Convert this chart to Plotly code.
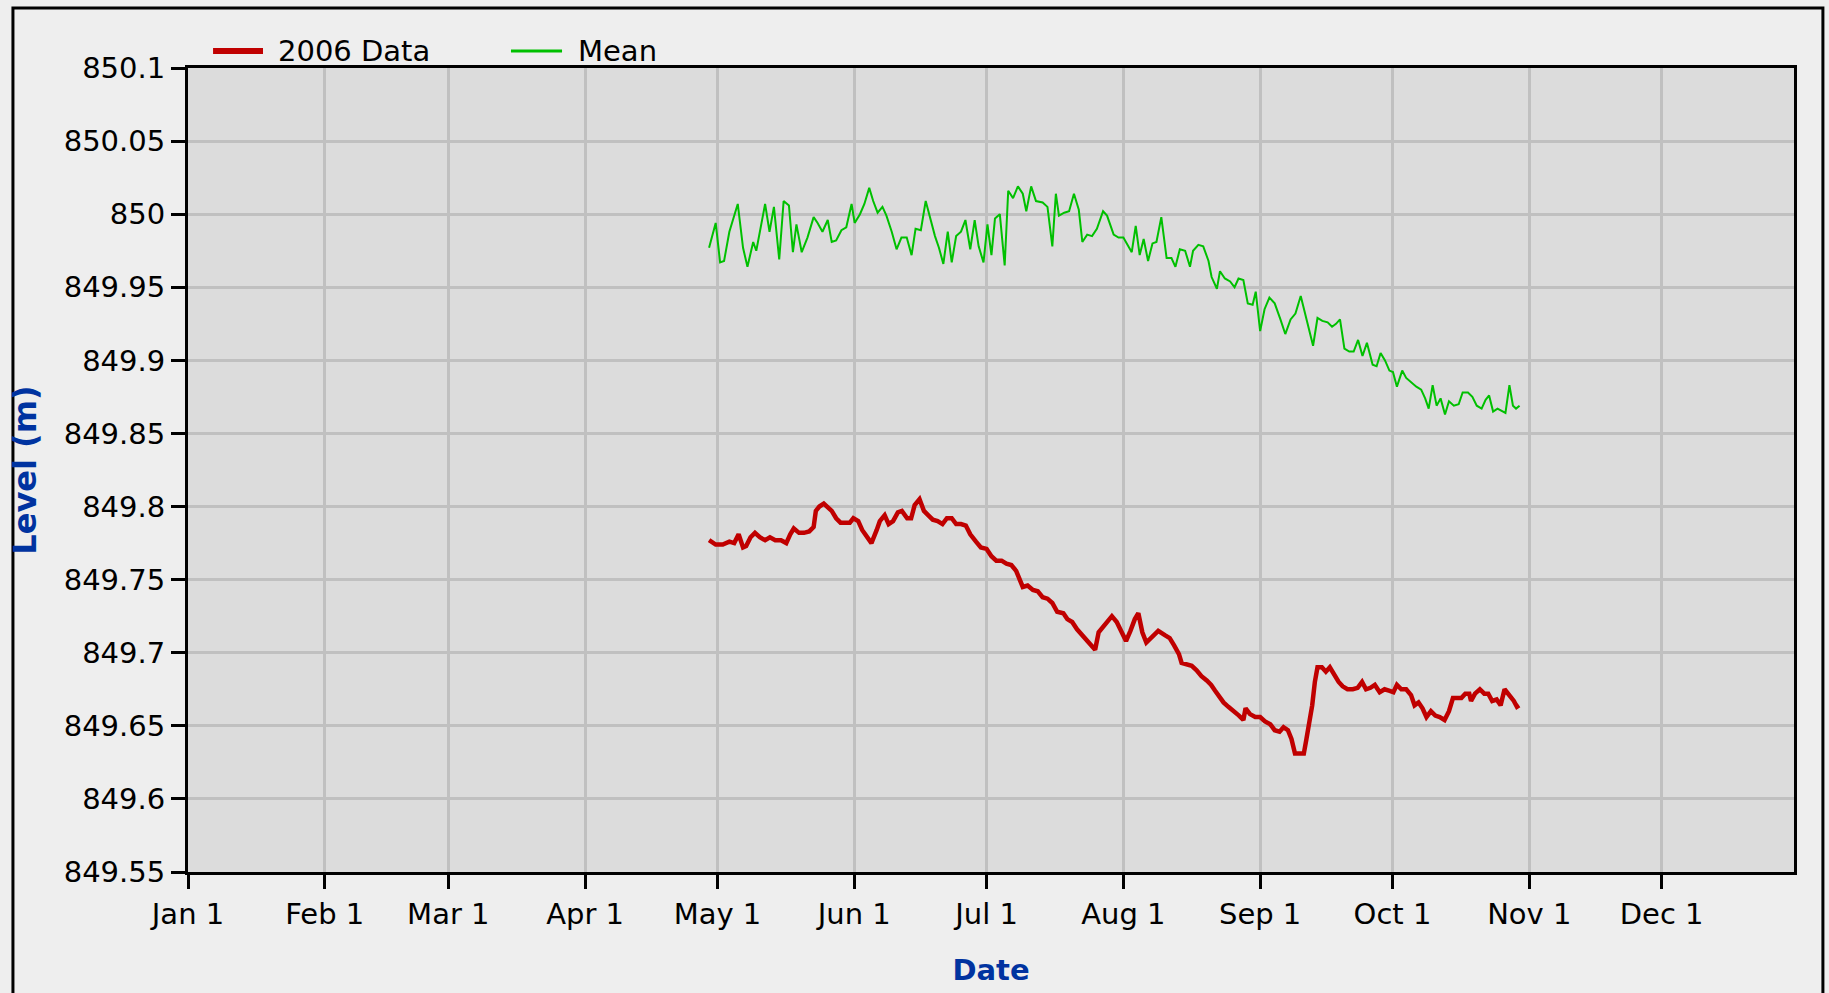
import pandas as pd
import plotly.graph_objects as go

YEAR_START = "2006-01-01"

# 2006 data: day offset from Jan 1 and level (m)
data_day = [118.1, 119.6, 121.2, 122.7, 123.8, 124.8, 125.8, 126.5, 127.5, 128.5,
            129.6, 130.8, 131.9, 133.1, 134.4, 135.6, 136.5, 137.3, 138.5, 139.6,
            140.8, 141.8, 142.3, 143.1, 144.1, 145.0, 145.9, 146.9, 147.9, 148.8,
            150.0, 150.8, 151.9, 152.8, 153.8, 154.9, 156.1, 156.8, 157.9, 158.8,
            159.8, 160.9, 161.8, 163.0, 163.9, 164.7, 165.8, 166.8, 167.8, 168.8,
            169.9, 171.0, 172.0, 173.1, 174.1, 175.2, 176.3, 177.3, 178.6, 179.7,
            181.0, 182.1, 183.2, 184.4, 185.5, 186.6, 187.7, 188.5, 189.2, 190.3,
            191.5, 192.6, 193.7, 194.8, 195.9, 197.0, 198.4, 199.3, 200.4, 201.5,
            202.6, 203.6, 204.5, 205.6, 206.4, 207.5, 208.6, 209.4, 210.5, 211.6,
            212.6, 213.6, 214.6, 215.4, 216.3, 217.2,
            218.6, 219.9, 221.4, 222.5, 223.5, 224.6, 225.2, 226.3, 227.5, 228.6,
            229.7, 230.9, 231.9, 232.8, 233.7, 234.7, 235.8, 237.2, 238.2, 239.2,
            239.7, 240.7, 241.9, 243.0, 244.1, 245.3, 246.3, 247.4, 248.3, 249.3,
            250.1, 250.9, 251.9, 252.9, 253.5, 254.2, 254.8, 255.4, 256.0, 257.0,
            257.9, 258.8, 259.8, 260.8, 261.7, 262.8, 264.0, 265.1, 266.1, 267.0,
            268.0, 269.0, 270.1, 271.2, 272.2, 273.2, 274.0, 275.0, 276.1, 277.2,
            278.0, 278.9, 279.8, 280.7, 281.7, 282.7, 283.7, 284.8, 285.8, 286.7,
            287.6, 288.6, 289.5, 290.4, 290.8, 291.7, 292.8, 293.8, 294.7, 295.6,
            296.6, 297.5, 298.4, 299.5, 300.5, 301.2, 301.7]
data_level = [849.777, 849.774, 849.774, 849.776, 849.775, 849.781, 849.772, 849.773, 849.779, 849.782,
              849.779, 849.777, 849.779, 849.777, 849.777, 849.775, 849.781, 849.785, 849.782, 849.782,
              849.783, 849.786, 849.797, 849.800, 849.802, 849.799, 849.797, 849.792, 849.789, 849.789,
              849.789, 849.792, 849.790, 849.784, 849.780, 849.775, 849.784, 849.790, 849.794, 849.788,
              849.790, 849.796, 849.797, 849.792, 849.792, 849.801, 849.805, 849.797, 849.794, 849.791,
              849.790, 849.788, 849.792, 849.792, 849.788, 849.788, 849.787, 849.781, 849.776, 849.772,
              849.771, 849.766, 849.763, 849.763, 849.761, 849.760, 849.756, 849.749, 849.745, 849.746,
              849.743, 849.742, 849.738, 849.737, 849.734, 849.728, 849.727, 849.723, 849.721, 849.716,
              849.712, 849.709, 849.706, 849.702, 849.714, 849.718, 849.721, 849.725, 849.721, 849.715,
              849.708, 849.715, 849.723, 849.727, 849.714, 849.707,
              849.711, 849.715, 849.712, 849.710, 849.705, 849.699, 849.693, 849.692, 849.691, 849.688,
              849.684, 849.681, 849.678, 849.674, 849.670, 849.666, 849.663, 849.660, 849.657, 849.654,
              849.662, 849.658, 849.656, 849.656, 849.653, 849.651, 849.647, 849.646, 849.649, 849.647,
              849.641, 849.631, 849.631, 849.631, 849.641, 849.652, 849.664, 849.680, 849.690, 849.690,
              849.687, 849.690, 849.685, 849.680, 849.677, 849.675, 849.675, 849.676, 849.680, 849.675,
              849.676, 849.678, 849.673, 849.675, 849.674, 849.673, 849.678, 849.675, 849.675, 849.671,
              849.664, 849.666, 849.662, 849.656, 849.660, 849.657, 849.656, 849.654, 849.660, 849.669,
              849.669, 849.669, 849.672, 849.672, 849.667, 849.672, 849.675, 849.672, 849.672, 849.667,
              849.668, 849.664, 849.675, 849.671, 849.667, 849.663, 849.664]

# Mean: day offset from Jan 1 and level (m)
mean_day = [118.1, 119.6, 120.6, 121.5, 122.7, 124.6, 125.8, 126.8, 128.1, 128.8,
            130.8, 131.8, 132.8, 134.0, 135.0, 136.2, 137.1, 137.9, 139.1, 140.4,
            141.8, 142.7, 143.8, 145.0, 145.9, 146.9, 148.1, 149.2, 150.4, 151.1,
            152.3, 153.3, 154.4, 155.3, 156.3, 157.4, 158.3, 159.5, 160.6, 161.7,
            162.9, 164.0, 164.9, 166.1, 167.2, 168.1, 169.3, 170.2, 171.2, 172.2,
            173.1, 174.1, 175.2, 176.2, 177.3, 178.3, 179.2, 180.3, 181.2, 182.1,
            182.9, 184.0, 185.1, 185.9, 187.0, 188.1, 189.2, 190.0, 191.1, 192.2,
            193.7, 194.8, 195.9, 196.7, 197.4, 198.6, 199.7, 200.8, 201.9, 202.7,
            203.8, 204.9, 206.0, 207.4, 208.3, 209.8, 210.9, 212.0, 213.1, 213.9,
            214.8, 215.7, 216.6, 217.6, 218.6, 219.5, 220.6,
            221.8, 222.9, 223.8, 224.8, 226.0, 227.1, 227.8, 229.0, 230.1, 231.3,
            232.0, 233.2, 233.9, 235.0, 236.2, 237.2, 238.1, 239.2, 240.2, 241.3,
            242.0, 243.0, 244.0, 245.1, 246.3, 247.6, 248.7, 249.9, 251.0, 252.2,
            253.2, 254.1, 255.0, 256.0, 257.1, 258.3, 259.3, 260.2, 261.1, 262.1,
            263.2, 264.2, 265.2, 266.2, 267.2, 268.5, 269.4, 270.3, 271.3, 272.3,
            273.1, 274.0, 275.2, 276.1, 277.2, 278.4, 279.5, 280.4, 281.2, 282.1,
            283.0, 283.9, 284.9, 285.8, 286.9, 288.0, 288.9, 290.1, 291.1, 292.1,
            293.2, 294.1, 294.9, 295.8, 296.8, 297.8, 298.6, 299.5, 300.3, 301.0,
            301.8]
mean_level = [849.977, 849.994, 849.967, 849.968, 849.988, 850.007, 849.977, 849.964, 849.981, 849.975,
              850.007, 849.988, 850.005, 849.969, 850.009, 850.006, 849.974, 849.993, 849.974, 849.984,
              849.998, 849.994, 849.988, 849.996, 849.981, 849.982, 849.989, 849.991, 850.007, 849.994,
              850.000, 850.007, 850.018, 850.009, 850.001, 850.005, 849.999, 849.988, 849.976, 849.984,
              849.984, 849.972, 849.990, 849.989, 850.009, 849.998, 849.985, 849.977, 849.966, 849.988,
              849.967, 849.985, 849.988, 849.996, 849.976, 849.996, 849.978, 849.967, 849.993, 849.972,
              849.997, 850.000, 849.965, 850.016, 850.011, 850.019, 850.014, 850.002, 850.019, 850.009,
              850.008, 850.005, 849.978, 850.014, 849.999, 850.001, 850.002, 850.014, 850.003, 849.981,
              849.986, 849.985, 849.990, 850.002, 849.999, 849.986, 849.984, 849.984, 849.978, 849.974,
              849.992, 849.972, 849.983, 849.968, 849.980, 849.981, 849.998,
              849.970, 849.970, 849.964, 849.976, 849.975, 849.964, 849.975, 849.979, 849.978, 849.968,
              849.957, 849.949, 849.961, 849.956, 849.954, 849.950, 849.956, 849.955, 849.939, 849.938,
              849.947, 849.920, 849.935, 849.943, 849.939, 849.928, 849.918, 849.928, 849.932, 849.944,
              849.932, 849.921, 849.910, 849.929, 849.927, 849.926, 849.923, 849.925, 849.928, 849.908,
              849.906, 849.906, 849.914, 849.903, 849.912, 849.897, 849.896, 849.905, 849.900, 849.893,
              849.892, 849.882, 849.893, 849.888, 849.885, 849.882, 849.880, 849.874, 849.867, 849.883,
              849.869, 849.874, 849.863, 849.872, 849.869, 849.870, 849.878, 849.878, 849.875, 849.869,
              849.867, 849.873, 849.876, 849.865, 849.867, 849.865, 849.864, 849.883, 849.869, 849.867,
              849.869]

month_ticks = ["2006-01-01", "2006-02-01", "2006-03-01", "2006-04-01", "2006-05-01", "2006-06-01",
               "2006-07-01", "2006-08-01", "2006-09-01", "2006-10-01", "2006-11-01", "2006-12-01"]
month_labels = ["Jan 1", "Feb 1", "Mar 1", "Apr 1", "May 1", "Jun 1",
                "Jul 1", "Aug 1", "Sep 1", "Oct 1", "Nov 1", "Dec 1"]
y_ticks = [849.55, 849.6, 849.65, 849.7, 849.75, 849.8, 849.85, 849.9, 849.95, 850.0, 850.05, 850.1]
y_labels = ["849.55", "849.6", "849.65", "849.7", "849.75", "849.8", "849.85", "849.9",
            "849.95", "850", "850.05", "850.1"]
series_names = ["2006 Data", "Mean"]
series_colors = ["#C00000", "#00C000"]

base = pd.Timestamp(YEAR_START)
data_x = base + pd.to_timedelta(data_day, unit="D")
mean_x = base + pd.to_timedelta(mean_day, unit="D")

FONT = "DejaVu Sans"
TITLE_BLUE = "#0033A0"

fig = go.Figure()
fig.add_trace(go.Scatter(x=mean_x, y=mean_level, mode="lines", name=series_names[1],
                         line=dict(color=series_colors[1], width=2)))
fig.add_trace(go.Scatter(x=data_x, y=data_level, mode="lines", name=series_names[0],
                         line=dict(color=series_colors[0], width=4.5)))

axis_common = dict(
    showgrid=True, gridcolor="#C0C0C0", gridwidth=3,
    showline=True, linecolor="black", linewidth=3, mirror=True,
    ticks="outside", ticklen=14, tickwidth=3, tickcolor="black",
    zeroline=False, tickfont=dict(family=FONT, size=29, color="black"),
)

fig.update_layout(
    width=1829, height=993,
    margin=dict(l=188, r=35, t=68, b=121),
    paper_bgcolor="#EEEEEE", plot_bgcolor="#DCDCDC",
    showlegend=False,
    font=dict(family=FONT, size=29, color="black"),
    xaxis=dict(type="date", range=["2006-01-01", "2006-12-31"],
               tickmode="array", tickvals=month_ticks, ticktext=month_labels,
               title=dict(text="Date", standoff=30,
                          font=dict(family=FONT, size=29, color=TITLE_BLUE, weight="bold")),
               **axis_common),
    yaxis=dict(range=[849.55, 850.1], tickmode="array", tickvals=y_ticks, ticktext=y_labels,
               title=dict(text="Level (m)", standoff=18,
                          font=dict(family=FONT, size=32, color=TITLE_BLUE, weight="bold")),
               **axis_common),
)

# outer frame of the chart image
fig.add_shape(type="rect", xref="paper", yref="paper", x0=-0.109, x1=1.018, y0=-0.2, y1=1.0746,
              line=dict(color="black", width=3), fillcolor="rgba(0,0,0,0)", layer="above")

# legend drawn above the plot area
legend_items = [(series_names[0], series_colors[0], 6, 0.0156, 0.0467, 0.0548),
                (series_names[1], series_colors[1], 3, 0.2011, 0.2329, 0.2416)]
for name, color, w, lx0, lx1, tx in legend_items:
    fig.add_shape(type="line", xref="paper", yref="paper", x0=lx0, x1=lx1, y0=1.0211, y1=1.0211,
                  line=dict(color=color, width=w))
    fig.add_annotation(text=name, xref="paper", yref="paper", x=tx, y=1.0211,
                       xanchor="left", yanchor="middle", showarrow=False,
                       font=dict(family=FONT, size=29, color="black"))

fig.write_html("out.html", config={"displayModeBar": False},
               post_script="document.body.style.margin='0';document.body.style.overflow='hidden';")
